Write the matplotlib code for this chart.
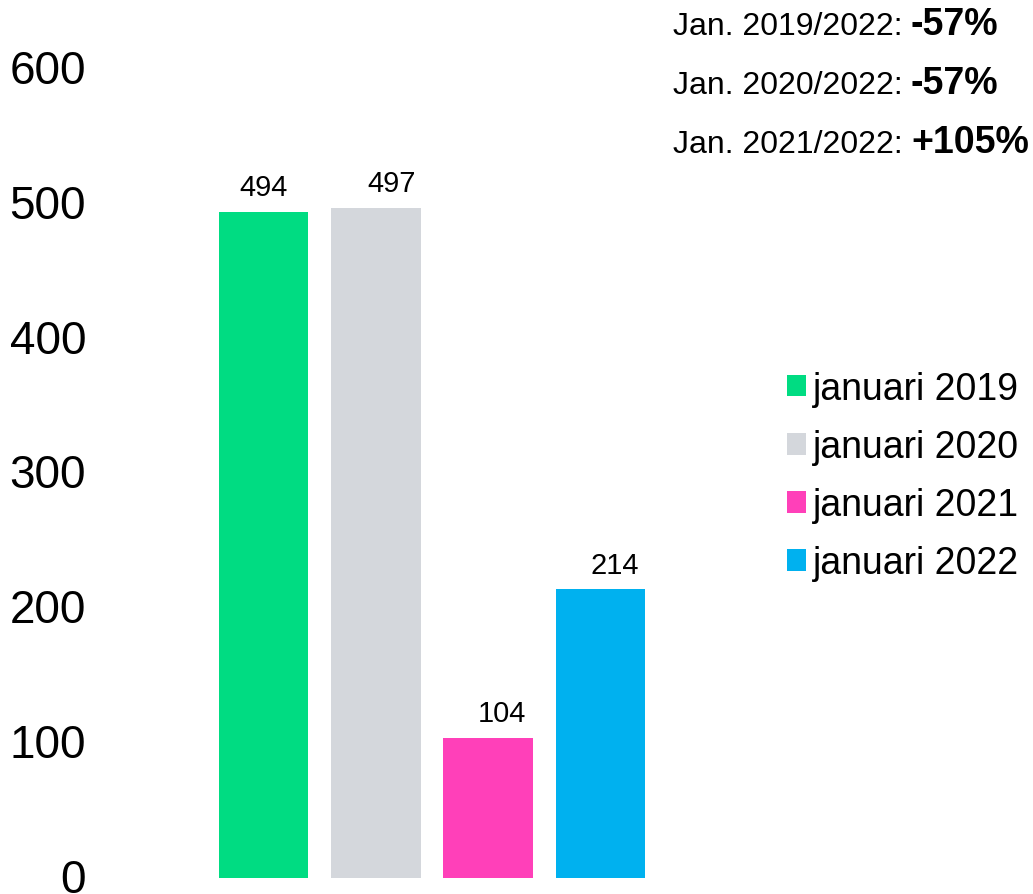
import matplotlib
matplotlib.use("Agg")
import matplotlib.pyplot as plt
import matplotlib.transforms as mtransforms
from matplotlib.patches import Patch

# data
labels = ["januari 2019", "januari 2020", "januari 2021", "januari 2022"]
values = [494, 497, 104, 214]
colors = ["#00DC82", "#D4D7DC", "#FF40B9", "#00B1EF"]
yticks = [0, 100, 200, 300, 400, 500, 600]

compare_labels = ["Jan. 2019/2022:", "Jan. 2020/2022:", "Jan. 2021/2022:"]
compare_values = ["-57%", "-57%", "+105%"]

# small horizontal nudge of value labels (pt), as in the original
label_dx = [0, 11, 10, 10]

plt.rcParams["font.family"] = ["Liberation Sans", "DejaVu Sans"]

W, H = 1033, 895
fig = plt.figure(figsize=(W / 100, H / 100), dpi=100)

# axes placed in pixels: left 100, right 760, y=0 at 879, y=600 at 70
ax = fig.add_axes([100 / W, (H - 879) / H, 660 / W, 809 / H])

x = list(range(len(values)))
bars = ax.bar(x, values, width=0.8, color=colors)

ax.set_ylim(0, 600)
ax.set_xlim(-1.456, 4.42)
ax.set_yticks(yticks)
ax.set_yticklabels([str(t) for t in yticks], fontsize=33)
ax.set_xticks([])
ax.tick_params(axis="y", length=0, pad=10)
for s in ax.spines.values():
    s.set_visible(False)

# lift tick labels a couple of pixels so the "0" is not clipped
shift = mtransforms.ScaledTranslation(0, 3 / 100, fig.dpi_scale_trans)
for lab in ax.get_yticklabels():
    lab.set_transform(lab.get_transform() + shift)

for i, b in enumerate(bars):
    ax.annotate(str(values[i]), (b.get_x() + b.get_width() / 2, b.get_height()),
                xytext=(label_dx[i], 12), textcoords="offset points",
                ha="center", va="baseline", fontsize=21)

# legend on the right
handles = [Patch(facecolor=c, edgecolor="none") for c in colors]
fig.legend(handles, labels, loc="upper left", bbox_to_anchor=(787 / W, 1 - 372 / H),
           frameon=False, fontsize=27, handlelength=0.5, handleheight=0.5,
           handletextpad=0.19, labelspacing=0.59, borderpad=0, borderaxespad=0)

# comparison lines at top right
for i in range(len(compare_labels)):
    yb = 35 + i * 59
    t = fig.text(673 / W, 1 - yb / H, compare_labels[i], fontsize=23,
                 ha="left", va="baseline")
    ax.annotate(compare_values[i], xy=(1, 0), xycoords=t,
                xytext=(6, -1), textcoords="offset points",
                ha="left", va="bottom", fontsize=27, fontweight="bold")

fig.savefig("out.png", dpi=100)
